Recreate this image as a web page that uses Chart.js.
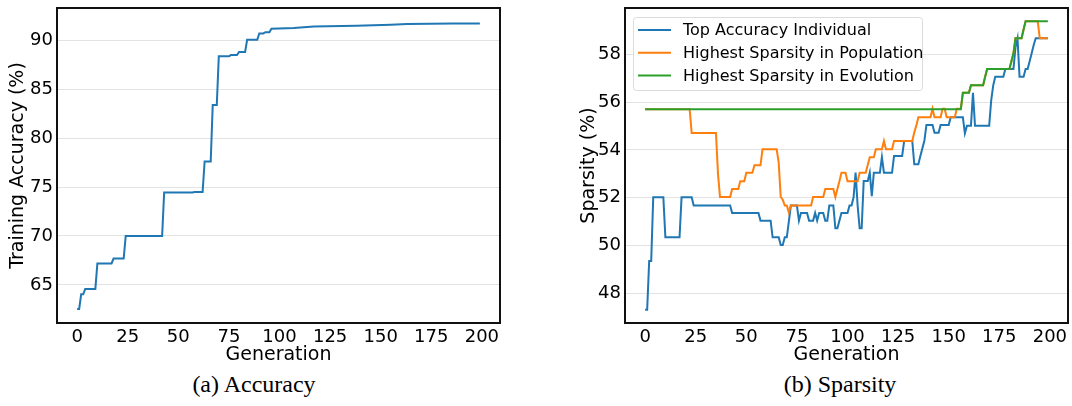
<!DOCTYPE html>
<html>
<head>
<meta charset="utf-8">
<script src="https://cdn.jsdelivr.net/npm/chart.js@4.4.1/dist/chart.umd.min.js"></script>
<style>
  body { margin: 0; background: #fff; width: 1072px; height: 406px; position: relative; overflow: hidden; }
  canvas { position: absolute; top: 0; }
  #accChart { left: 0; }
  #spChart { left: 540px; }
  .caption { position: absolute; top: 371px; font-family: "Liberation Serif", serif; font-size: 24px; color: #000; transform: translateX(-50%); white-space: nowrap; }
</style>
</head>
<body>
<canvas id="accChart" width="540" height="370"></canvas>
<canvas id="spChart" width="532" height="370"></canvas>
<div class="caption" style="left:254px">(a) Accuracy</div>
<div class="caption" style="left:840px">(b) Sparsity</div>
<script>
// generation / value breakpoints
var accGen = [0, 1, 2, 3, 4, 9, 10, 17, 18, 23, 24, 42, 43, 57, 58, 62, 63, 66, 67, 69, 70, 75, 76, 79, 80, 83, 84, 89, 90, 92, 93, 95, 96, 107, 117, 138, 155, 163, 186, 199];
var accVal = [62.55, 62.55, 64.05, 64.05, 64.6, 64.6, 67.2, 67.2, 67.7, 67.7, 70.0, 70.0, 74.45, 74.45, 74.5, 74.5, 77.6, 77.6, 83.37, 83.37, 88.34, 88.34, 88.47, 88.47, 88.78, 88.78, 90.03, 90.03, 90.68, 90.68, 90.8, 90.8, 91.15, 91.22, 91.37, 91.47, 91.57, 91.63, 91.7, 91.7];

var topGen = [0, 1, 2, 3, 4, 9, 10, 17, 18, 23, 24, 42, 43, 56, 57, 62, 63, 66, 67, 68, 69, 70, 71, 72, 75, 76, 77, 80, 81, 83, 84, 85, 86, 88, 89, 90, 91, 93, 94, 95, 96, 97, 100, 101, 102, 103, 104, 105, 106, 107, 108, 110, 111, 112, 113, 116, 117, 118, 122, 123, 127, 128, 132, 133, 135, 136, 138, 139, 142, 143, 145, 146, 150, 151, 157, 158, 159, 161, 162, 163, 170, 171, 172, 173, 177, 178, 182, 183, 184, 185, 187, 188, 189, 190, 191, 192, 193, 199];
var topVal = [47.31, 47.31, 49.35, 49.35, 52.02, 52.02, 50.34, 50.34, 52.02, 52.02, 51.67, 51.67, 51.36, 51.36, 51.04, 51.04, 50.34, 50.34, 50.02, 50.02, 50.34, 50.34, 51.0, 51.67, 51.67, 51.04, 51.36, 51.36, 51.04, 51.04, 51.36, 51.04, 51.36, 51.36, 51.04, 51.04, 51.67, 51.67, 50.72, 50.72, 51.04, 51.36, 51.36, 51.67, 51.67, 52.02, 53.05, 51.67, 50.72, 50.72, 52.7, 52.7, 53.05, 52.06, 53.05, 53.05, 53.7, 53.05, 53.05, 53.75, 53.75, 54.38, 54.38, 53.4, 53.4, 53.75, 54.4, 55.05, 55.05, 54.72, 54.72, 55.05, 55.05, 55.37, 55.37, 54.7, 55.02, 55.02, 56.4, 55.02, 55.02, 56.08, 56.71, 57.07, 57.07, 57.39, 57.39, 58.3, 58.68, 57.07, 57.07, 57.39, 57.39, 57.72, 58.05, 58.4, 58.68, 58.68];

var popGen = [0, 22, 23, 35, 36, 37, 42, 43, 46, 47, 49, 50, 53, 54, 57, 58, 65, 66, 67, 68, 69, 70, 71, 72, 82, 83, 88, 89, 93, 94, 95, 96, 97, 99, 100, 105, 106, 109, 110, 111, 113, 114, 117, 118, 119, 122, 123, 132, 133, 134, 135, 141, 142, 143, 146, 147, 148, 149, 153, 154, 156, 157, 160, 161, 167, 168, 169, 180, 181, 182, 183, 186, 187, 188, 194, 195, 199];
var popVal = [55.71, 55.71, 54.71, 54.71, 53.0, 52.03, 52.03, 52.37, 52.37, 52.69, 52.69, 53.05, 53.05, 53.36, 53.36, 54.03, 54.03, 53.47, 52.03, 51.92, 51.67, 51.67, 51.38, 51.67, 51.67, 52.03, 52.03, 52.37, 52.37, 52.03, 52.37, 52.69, 53.05, 53.05, 52.69, 52.69, 53.05, 53.05, 53.37, 53.7, 53.7, 54.03, 54.03, 54.38, 54.03, 54.03, 54.38, 54.38, 54.74, 55.02, 55.37, 55.37, 55.73, 55.37, 55.37, 55.73, 55.73, 55.37, 55.37, 55.73, 55.73, 56.4, 56.4, 56.71, 56.71, 57.07, 57.39, 57.39, 57.72, 58.05, 58.68, 58.68, 59.05, 59.39, 59.39, 58.68, 58.68];

var evoGen = [0, 156, 157, 160, 161, 167, 168, 169, 180, 181, 182, 183, 186, 187, 188, 199];
var evoVal = [55.71, 55.71, 56.4, 56.4, 56.71, 56.71, 57.07, 57.39, 57.39, 57.72, 58.05, 58.68, 58.68, 59.05, 59.39, 59.39];

var genTicks = [0, 25, 50, 75, 100, 125, 150, 175, 200];
var accTicks = [65, 70, 75, 80, 85, 90];
var spTicks = [48, 50, 52, 54, 56, 58];

var seriesLabels = ["Top Accuracy Individual", "Highest Sparsity in Population", "Highest Sparsity in Evolution"];
var seriesColors = ["#1f77b4", "#ff7f0e", "#2ca02c"];

function toPoints(gens, vals) {
  return gens.map(function (g, i) { return { x: g, y: vals[i] }; });
}

var tickFont = { family: "DejaVu Sans", size: 18 };
var titleFont = { family: "DejaVu Sans", size: 19 };

// black frame around the plot area
var framePlugin = {
  id: "frame",
  afterDraw: function (chart) {
    var a = chart.chartArea, c = chart.ctx;
    c.save();
    c.strokeStyle = "#111";
    c.lineWidth = 2;
    c.strokeRect(a.left, a.top, a.right - a.left, a.bottom - a.top);
    c.restore();
  }
};

// matplotlib style legend in the upper left of the plot area
var boxLegend = {
  id: "boxLegend",
  afterDatasetsDraw: function (chart) {
    var a = chart.chartArea, c = chart.ctx;
    var x0 = a.left + 8, y0 = a.top + 9, w = 289, h = 73;
    c.save();
    c.fillStyle = "rgba(255,255,255,0.85)";
    c.strokeStyle = "#dcdcdc";
    c.lineWidth = 1;
    c.beginPath();
    c.roundRect(x0 + 0.5, y0 + 0.5, w, h, 3);
    c.fill();
    c.stroke();
    c.font = "16px 'DejaVu Sans'";
    c.textBaseline = "middle";
    for (var i = 0; i < seriesLabels.length; i++) {
      var y = y0 + 13 + i * 22.7;
      c.strokeStyle = seriesColors[i];
      c.lineWidth = 2;
      c.beginPath();
      c.moveTo(x0 + 5, y);
      c.lineTo(x0 + 38, y);
      c.stroke();
      c.fillStyle = "#000";
      c.fillText(seriesLabels[i], x0 + 50, y + 1);
    }
    c.restore();
  }
};

function xAxis() {
  return {
    type: "linear",
    min: -9.95,
    max: 208.95,
    afterBuildTicks: function (s) { s.ticks = genTicks.map(function (v) { return { value: v }; }); },
    afterFit: function (s) { s.height = 47; s.paddingLeft = 0; s.paddingRight = 0; },
    grid: { display: false, drawTicks: false },
    border: { display: false },
    ticks: { font: tickFont, color: "#000", padding: 4, maxRotation: 0, autoSkip: false },
    title: { display: true, text: "Generation", font: titleFont, color: "#000", padding: { top: 0, bottom: 4 } }
  };
}

function yAxis(min, max, ticks, label, width, titlePad) {
  return {
    min: min,
    max: max,
    afterBuildTicks: function (s) { s.ticks = ticks.map(function (v) { return { value: v }; }); },
    afterFit: function (s) { s.width = width; s.paddingTop = 0; s.paddingBottom = 0; },
    grid: { color: "#e3e3e3", lineWidth: 1, drawTicks: false },
    border: { display: false },
    ticks: { font: tickFont, color: "#000", padding: 4 },
    title: { display: true, text: label, font: titleFont, color: "#000", padding: { top: titlePad, bottom: 0 } }
  };
}

function lineSet(label, gens, vals, color, order) {
  return {
    label: label,
    data: toPoints(gens, vals),
    borderColor: color,
    backgroundColor: color,
    borderWidth: 2,
    pointRadius: 0,
    tension: 0,
    order: order
  };
}

var commonOpts = {
  responsive: false,
  animation: false,
  plugins: { legend: { display: false }, tooltip: { enabled: false } }
};

new Chart(document.getElementById("accChart").getContext("2d"), {
  type: "line",
  data: { datasets: [lineSet("Training Accuracy", accGen, accVal, seriesColors[0], 0)] },
  options: Object.assign({}, commonOpts, {
    layout: { padding: { top: 8, right: 40, left: 0, bottom: 0 } },
    scales: { x: xAxis(), y: yAxis(61.12, 93.27, accTicks, "Training Accuracy (%)", 57, 7) }
  }),
  plugins: [framePlugin]
});

new Chart(document.getElementById("spChart").getContext("2d"), {
  type: "line",
  data: {
    datasets: [
      lineSet(seriesLabels[0], topGen, topVal, seriesColors[0], 3),
      lineSet(seriesLabels[1], popGen, popVal, seriesColors[1], 2),
      lineSet(seriesLabels[2], evoGen, evoVal, seriesColors[2], 1)
    ]
  },
  options: Object.assign({}, commonOpts, {
    layout: { padding: { top: 8, right: 4, left: 0, bottom: 0 } },
    scales: { x: xAxis(), y: yAxis(46.75, 59.95, spTicks, "Sparsity (%)", 85, 38) }
  }),
  plugins: [framePlugin, boxLegend]
});
</script>
</body>
</html>
